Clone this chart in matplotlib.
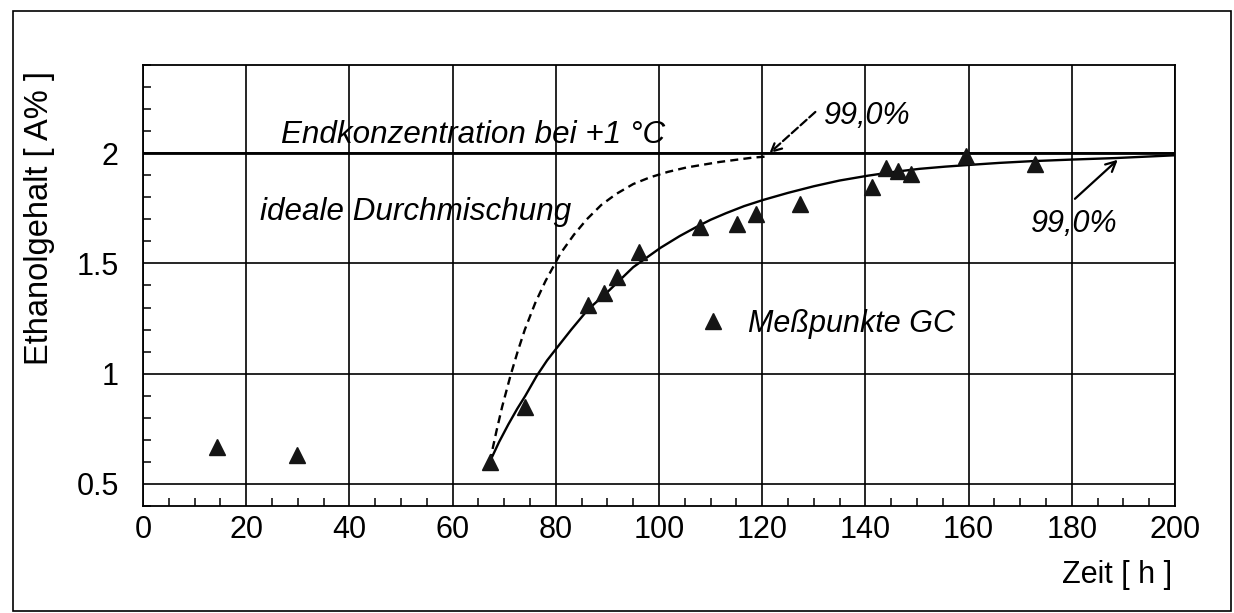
import numpy as np
import matplotlib
matplotlib.use('Agg')
import matplotlib.pyplot as plt
from matplotlib.ticker import MultipleLocator
from matplotlib.patches import Rectangle

plt.rcParams['font.family'] = ['Liberation Sans', 'DejaVu Sans']

# GC-Messpunkte
zeit_gc = [14.3, 29.8, 67.2, 74.1, 86.2, 89.4, 91.9, 96.1, 108.0, 115.1,
           118.8, 127.3, 141.2, 144.0, 146.3, 148.9, 159.4, 172.9]
ethanol_gc = [0.669, 0.631, 0.601, 0.850, 1.311, 1.365, 1.438, 1.551, 1.666, 1.681,
              1.723, 1.769, 1.847, 1.935, 1.920, 1.905, 1.989, 1.950]

# angepasste Kurve durch die Messpunkte
zeit_fit = [67.2, 69.0, 70.8, 72.5, 74.1, 76.3, 78.3, 80.3, 83.0, 86.2,
            90.0, 95.0, 100.3, 104.0, 107.3, 110.0, 113.0, 116.5, 120.2, 125.0,
            130.0, 135.0, 140.5, 145.5, 150.5, 155.5, 160.9, 166.0, 172.4, 180.0,
            188.6, 199.6]
ethanol_fit = [0.60, 0.69, 0.77, 0.84, 0.90, 0.99, 1.06, 1.12, 1.20, 1.29,
               1.37, 1.483, 1.571, 1.624, 1.666, 1.698, 1.728, 1.760, 1.788, 1.820,
               1.850, 1.876, 1.898, 1.915, 1.929, 1.939, 1.948, 1.956, 1.964, 1.971,
               1.978, 1.99]

# ideale Durchmischung
zeit_ideal = [67.2, 68.5, 69.6, 71.2, 72.6, 74.0, 76.0, 78.0, 80.9, 83.5,
              86.0, 88.8, 91.7, 95.0, 98.2, 101.7, 105.3, 111.7, 118.2, 121.0]
ethanol_ideal = [0.60, 0.74, 0.85, 0.99, 1.10, 1.20, 1.32, 1.42, 1.545, 1.63,
                 1.70, 1.765, 1.815, 1.86, 1.89, 1.915, 1.935, 1.96, 1.98, 1.985]

endkonz = 2.0

# 99 %-Marken: (Spitze, Ende des Pfeils)
pfeil_ideal = ((121.4, 2.0), (130.3, 2.187))
pfeil_fit = ((188.9, 1.970), (180.6, 1.793))

x_ticks = np.arange(0, 201, 20)
y_ticks = [0.5, 1, 1.5, 2]
y_tick_labels = ['0.5', '1', '1.5', '2']

FS = 22

fig = plt.figure(figsize=(12.34, 6.13), dpi=100)
ax = fig.add_axes([0.1159, 0.1746, 0.8363, 0.7194])

ax.plot(zeit_ideal, ethanol_ideal, color='k', lw=1.7, dashes=(3.4, 2.2))
ax.plot(zeit_fit, ethanol_fit, color='k', lw=1.7)
ax.axhline(endkonz, color='k', lw=2.0)
ax.plot(zeit_gc, ethanol_gc, '^', ms=12, color='#151515', mec='#151515',
        label='Meßpunkte GC', zorder=5)

ax.annotate('', xy=pfeil_ideal[0], xytext=pfeil_ideal[1],
            arrowprops=dict(arrowstyle='->', color='k', lw=1.6, linestyle='--',
                            mutation_scale=18, shrinkA=0, shrinkB=0))
ax.annotate('', xy=pfeil_fit[0], xytext=pfeil_fit[1],
            arrowprops=dict(arrowstyle='->', color='k', lw=1.6,
                            mutation_scale=18, shrinkA=0, shrinkB=0))

ax.text(26.8, 2.044, 'Endkonzentration bei +1 °C', fontsize=22.6, style='italic',
        va='baseline', ha='left')
ax.text(22.7, 1.696, 'ideale Durchmischung', fontsize=22.6, style='italic',
        va='baseline', ha='left')
ax.text(131.9, 2.134, '99,0%', fontsize=FS, style='italic', va='baseline', ha='left')
ax.text(172.0, 1.643, '99,0%', fontsize=FS, style='italic', va='baseline', ha='left')

leg = ax.legend(loc='center left', bbox_to_anchor=(104.6, 1.225),
                bbox_transform=ax.transData, frameon=False, borderpad=0,
                handlelength=1.0, handletextpad=0.64, numpoints=1,
                prop={'size': FS, 'style': 'italic'})

ax.set_xlim(0, 200)
ax.set_ylim(0.4, 2.4)
ax.set_xticks(x_ticks)
ax.set_xticklabels([str(v) for v in x_ticks])
ax.set_yticks(y_ticks)
ax.set_yticklabels(y_tick_labels)
ax.xaxis.set_minor_locator(MultipleLocator(5))
ax.yaxis.set_minor_locator(MultipleLocator(0.1))
ax.tick_params(which='major', length=0, labelsize=FS)
ax.tick_params(axis='x', which='major', pad=6.5)
ax.tick_params(axis='y', which='major', pad=17.5)
ax.tick_params(which='minor', direction='in', length=5.8, width=1.1,
               bottom=True, left=True, top=False, right=False)
ax.grid(True, which='major', color='k', lw=1.2)
for sp in ax.spines.values():
    sp.set_linewidth(1.3)

fig.text(40 / 1234, 1 - 218 / 613, 'Ethanolgehalt [ A% ]', rotation=90,
         ha='center', va='center', fontsize=23.5)
fig.text(1172 / 1234, 1 - 575 / 613, 'Zeit [ h ]', ha='right', va='center', fontsize=FS)

fig.add_artist(Rectangle((13 / 1234, 2 / 613), 1218 / 1234, 600 / 613,
                         transform=fig.transFigure, fill=False, color='k', lw=1.2))

fig.savefig('out.png', dpi=100)
